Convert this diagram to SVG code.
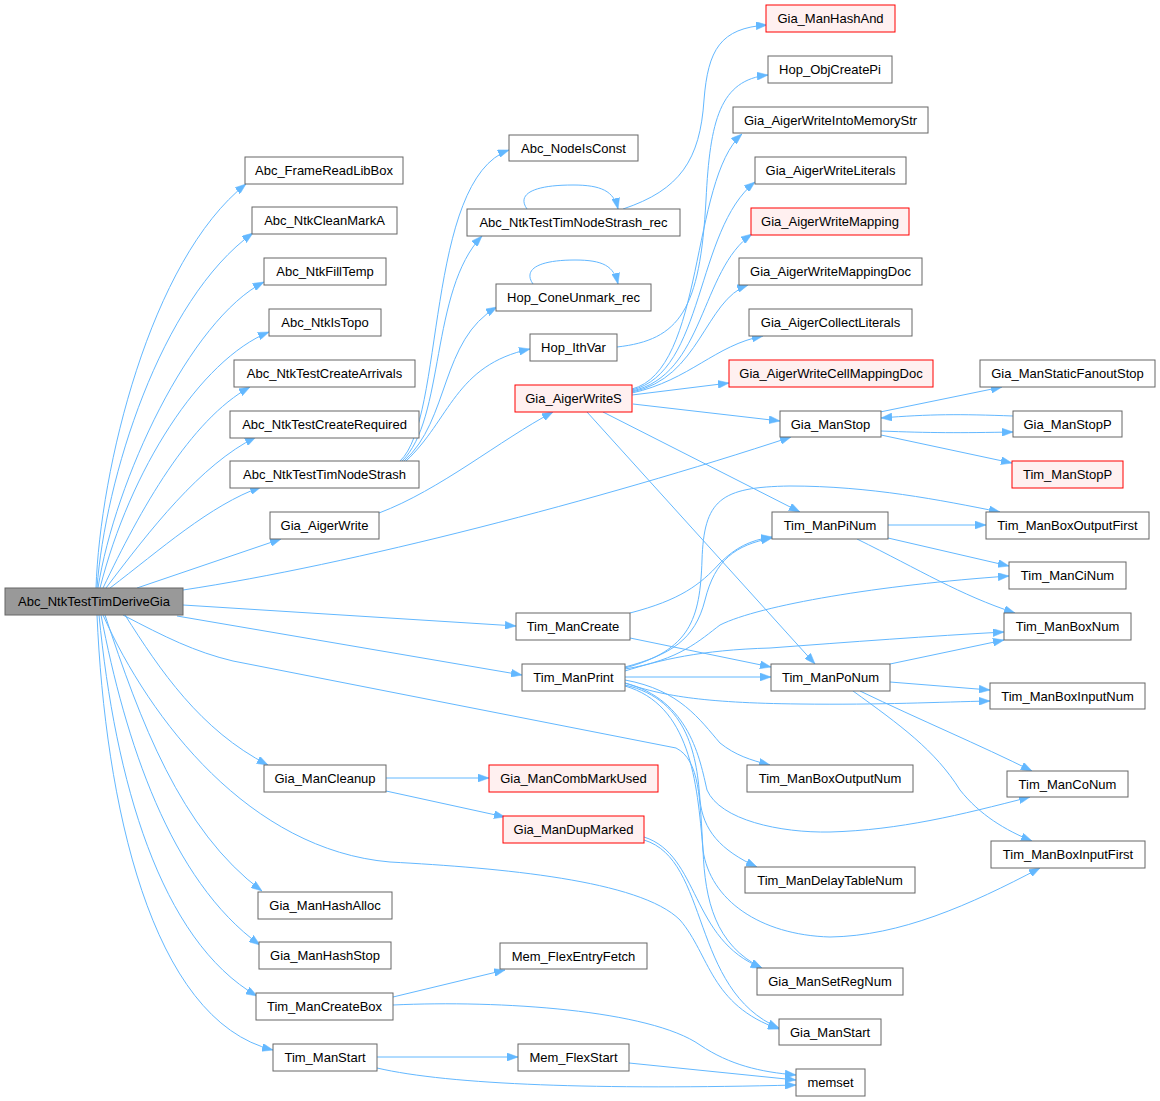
<svg xmlns="http://www.w3.org/2000/svg" width="1160" height="1101" viewBox="0 0 1160 1101">
<style>
.n rect{fill:#fff;stroke:#666;stroke-width:1}
.r rect{fill:#FFF0F0;stroke:#FF0000}
.root rect{fill:#999;stroke:#666}
text{font-family:"Liberation Sans",Arial,sans-serif;font-size:13px;fill:#000;text-anchor:middle}
.e path{fill:none;stroke:#63B8FF;stroke-width:1;marker-end:url(#ah)}
</style>
<defs>
<marker id="ah" markerUnits="userSpaceOnUse" markerWidth="11" markerHeight="8" refX="11" refY="4" orient="auto">
<path d="M0,0 L11,4 L0,8 z" fill="#63B8FF" stroke="#63B8FF" stroke-width="0.5"/>
</marker>
</defs>
<rect width="1160" height="1101" fill="#fff"/>
<g class="e">
<path d="M96,588 C100,470 150,260 246,184"/>
<path d="M97,588 C105,480 160,300 253,233"/>
<path d="M98,588 C115,480 190,320 264,282"/>
<path d="M100,588 C130,470 200,360 269,332"/>
<path d="M103,588 C140,510 190,420 250,387"/>
<path d="M106,588 C150,530 200,465 256,437"/>
<path d="M110,588 C160,550 210,505 261,487"/>
<path d="M137,588 L281,539"/>
<path d="M183,590 C350,565 600,500 791,437"/>
<path d="M183,605 L516,626"/>
<path d="M177,616 L522,675"/>
<path d="M123,615 C165,637 195,652 233,661 L676,748 C700,760 700,800 703,850 C705,900 715,945 762,968"/>
<path d="M125,615 C160,670 200,730 268,765"/>
<path d="M103,615 C150,720 250,850 390,862 C500,868 640,880 680,920 C710,955 710,1005 779,1029"/>
<path d="M105,615 C140,720 180,830 262,891"/>
<path d="M101,615 C125,740 170,880 260,945"/>
<path d="M99,615 C115,780 160,940 257,996"/>
<path d="M97,615 C105,800 150,1020 273,1050"/>
<path d="M400,461 C445,420 425,180 509,150"/>
<path d="M402,461 C445,420 430,290 482,236"/>
<path d="M404,461 C450,420 440,340 497,307"/>
<path d="M406,461 C450,420 455,365 530,349"/>
<path d="M527,209 C517,195 531,185 573,185 C601,185 614,191 618,209"/>
<path d="M533,284 C523,270 537,260 575,260 C603,260 614,266 618,284"/>
<path d="M623,209 C680,190 700,160 704,100 C708,50 720,28 767,25"/>
<path d="M617,347 C680,340 700,310 706,200 C710,120 720,80 768,75"/>
<path d="M379,513 C440,490 500,440 553,412"/>
<path d="M632,389 C705,370 690,180 742,134"/>
<path d="M632,390 C705,372 695,230 755,182"/>
<path d="M632,391 C705,375 700,270 752,234"/>
<path d="M632,392 C700,378 705,300 748,285"/>
<path d="M632,393 C690,380 715,345 763,336"/>
<path d="M632,395 L729,383"/>
<path d="M633,404 L780,421"/>
<path d="M603,412 L800,512"/>
<path d="M587,412 L815,664"/>
<path d="M880,412 L1002,387"/>
<path d="M881,431 C930,433 960,433 1013,432"/>
<path d="M1013,416 C960,414 930,414 881,418"/>
<path d="M881,435 L1012,463"/>
<path d="M630,613 C680,600 700,585 720,563 C735,548 750,540 772,537"/>
<path d="M630,638 L771,667"/>
<path d="M625,667 C670,655 695,640 705,600 C715,560 735,545 772,538"/>
<path d="M625,668 C690,650 700,620 702,560 C704,500 720,487 790,486 C870,486 940,500 1000,512"/>
<path d="M625,669 C680,660 700,640 720,625 C760,605 880,585 1009,576"/>
<path d="M625,671 C660,660 700,650 770,648 C850,642 930,636 1004,632"/>
<path d="M625,677 L771,677"/>
<path d="M625,683 C660,695 700,703 800,704 C880,705 940,702 990,701"/>
<path d="M625,680 C680,690 700,720 720,743 C735,755 750,760 770,765"/>
<path d="M625,683 C690,700 700,760 707,790 C720,820 780,833 830,832 C900,830 960,815 1030,797"/>
<path d="M625,685 C690,700 697,760 700,800 C703,830 720,850 757,867"/>
<path d="M625,686 C690,705 697,780 703,850 C710,900 760,935 830,937 C900,936 970,905 1040,868"/>
<path d="M888,525 L986,525"/>
<path d="M888,538 L1009,566"/>
<path d="M857,539 C920,570 960,595 1015,613"/>
<path d="M890,664 L1004,640"/>
<path d="M890,682 L990,690"/>
<path d="M860,691 C920,720 980,745 1032,771"/>
<path d="M853,691 C900,725 935,750 960,790 C980,815 1005,830 1032,841"/>
<path d="M386,778 L489,778"/>
<path d="M386,791 L505,817"/>
<path d="M644,837 C700,855 690,940 762,968"/>
<path d="M644,840 C710,860 690,990 779,1028"/>
<path d="M393,997 L505,970"/>
<path d="M393,1005 C500,1000 650,1010 700,1045 C730,1065 760,1072 796,1075"/>
<path d="M377,1057 L518,1057"/>
<path d="M377,1068 C450,1085 600,1090 796,1085"/>
<path d="M629,1063 L796,1080"/>
</g>
<g id="n_root" class="root"><rect x="5" y="588" width="178" height="27"/><text x="94" y="606">Abc_NtkTestTimDeriveGia</text></g>
<g id="n_FrameReadLibBox" class="n"><rect x="245" y="157" width="158" height="27"/><text x="324" y="175">Abc_FrameReadLibBox</text></g>
<g id="n_NtkCleanMarkA" class="n"><rect x="252" y="207" width="145" height="27"/><text x="324.5" y="225">Abc_NtkCleanMarkA</text></g>
<g id="n_NtkFillTemp" class="n"><rect x="264" y="258" width="122" height="27"/><text x="325" y="276">Abc_NtkFillTemp</text></g>
<g id="n_NtkIsTopo" class="n"><rect x="269" y="309" width="112" height="27"/><text x="325" y="327">Abc_NtkIsTopo</text></g>
<g id="n_CreateArrivals" class="n"><rect x="234" y="360" width="181" height="27"/><text x="324.5" y="378">Abc_NtkTestCreateArrivals</text></g>
<g id="n_CreateRequired" class="n"><rect x="230" y="411" width="189" height="27"/><text x="324.5" y="429">Abc_NtkTestCreateRequired</text></g>
<g id="n_TimNodeStrash" class="n"><rect x="230" y="461" width="189" height="27"/><text x="324.5" y="479">Abc_NtkTestTimNodeStrash</text></g>
<g id="n_AigerWrite" class="n"><rect x="270" y="512" width="109" height="27"/><text x="324.5" y="530">Gia_AigerWrite</text></g>
<g id="n_ManCleanup" class="n"><rect x="264" y="765" width="122" height="27"/><text x="325" y="783">Gia_ManCleanup</text></g>
<g id="n_HashAlloc" class="n"><rect x="258" y="892" width="134" height="27"/><text x="325" y="910">Gia_ManHashAlloc</text></g>
<g id="n_HashStop" class="n"><rect x="259" y="942" width="132" height="27"/><text x="325" y="960">Gia_ManHashStop</text></g>
<g id="n_CreateBox" class="n"><rect x="256" y="993" width="137" height="27"/><text x="324.5" y="1011">Tim_ManCreateBox</text></g>
<g id="n_TimManStart" class="n"><rect x="273" y="1044" width="104" height="27"/><text x="325" y="1062">Tim_ManStart</text></g>
<g id="n_NodeIsConst" class="n"><rect x="509" y="135" width="129" height="26"/><text x="573.5" y="153">Abc_NodeIsConst</text></g>
<g id="n_StrashRec" class="n"><rect x="467" y="209" width="213" height="27"/><text x="573.5" y="227">Abc_NtkTestTimNodeStrash_rec</text></g>
<g id="n_ConeUnmark" class="n"><rect x="496" y="284" width="155" height="27"/><text x="573.5" y="302">Hop_ConeUnmark_rec</text></g>
<g id="n_IthVar" class="n"><rect x="530" y="334" width="87" height="27"/><text x="573.5" y="352">Hop_IthVar</text></g>
<g id="n_AigerWriteS" class="n r"><rect x="515" y="385" width="117" height="27"/><text x="573.5" y="403">Gia_AigerWriteS</text></g>
<g id="n_TimManCreate" class="n"><rect x="516" y="613" width="114" height="27"/><text x="573" y="631">Tim_ManCreate</text></g>
<g id="n_TimManPrint" class="n"><rect x="522" y="664" width="103" height="27"/><text x="573.5" y="682">Tim_ManPrint</text></g>
<g id="n_CombMarkUsed" class="n r"><rect x="489" y="765" width="169" height="27"/><text x="573.5" y="783">Gia_ManCombMarkUsed</text></g>
<g id="n_DupMarked" class="n r"><rect x="503" y="816" width="141" height="27"/><text x="573.5" y="834">Gia_ManDupMarked</text></g>
<g id="n_FlexEntryFetch" class="n"><rect x="500" y="943" width="147" height="26"/><text x="573.5" y="961">Mem_FlexEntryFetch</text></g>
<g id="n_FlexStart" class="n"><rect x="518" y="1044" width="111" height="27"/><text x="573.5" y="1062">Mem_FlexStart</text></g>
<g id="n_HashAnd" class="n r"><rect x="766" y="5" width="129" height="27"/><text x="830.5" y="23">Gia_ManHashAnd</text></g>
<g id="n_ObjCreatePi" class="n"><rect x="768" y="56" width="124" height="27"/><text x="830" y="74">Hop_ObjCreatePi</text></g>
<g id="n_IntoMemoryStr" class="n"><rect x="733" y="107" width="195" height="26"/><text x="830.5" y="125">Gia_AigerWriteIntoMemoryStr</text></g>
<g id="n_WriteLiterals" class="n"><rect x="755" y="157" width="151" height="27"/><text x="830.5" y="175">Gia_AigerWriteLiterals</text></g>
<g id="n_WriteMapping" class="n r"><rect x="751" y="208" width="158" height="27"/><text x="830" y="226">Gia_AigerWriteMapping</text></g>
<g id="n_WriteMappingDoc" class="n"><rect x="739" y="258" width="183" height="27"/><text x="830.5" y="276">Gia_AigerWriteMappingDoc</text></g>
<g id="n_CollectLiterals" class="n"><rect x="749" y="309" width="163" height="27"/><text x="830.5" y="327">Gia_AigerCollectLiterals</text></g>
<g id="n_CellMappingDoc" class="n r"><rect x="729" y="360" width="204" height="27"/><text x="831" y="378">Gia_AigerWriteCellMappingDoc</text></g>
<g id="n_GiaManStop" class="n"><rect x="780" y="411" width="101" height="26"/><text x="830.5" y="429">Gia_ManStop</text></g>
<g id="n_PiNum" class="n"><rect x="772" y="512" width="116" height="27"/><text x="830" y="530">Tim_ManPiNum</text></g>
<g id="n_PoNum" class="n"><rect x="771" y="664" width="119" height="27"/><text x="830.5" y="682">Tim_ManPoNum</text></g>
<g id="n_BoxOutputNum" class="n"><rect x="747" y="765" width="166" height="27"/><text x="830" y="783">Tim_ManBoxOutputNum</text></g>
<g id="n_DelayTableNum" class="n"><rect x="745" y="867" width="170" height="26"/><text x="830" y="885">Tim_ManDelayTableNum</text></g>
<g id="n_SetRegNum" class="n"><rect x="757" y="968" width="146" height="27"/><text x="830" y="986">Gia_ManSetRegNum</text></g>
<g id="n_GiaManStart" class="n"><rect x="779" y="1019" width="102" height="26"/><text x="830" y="1037">Gia_ManStart</text></g>
<g id="n_memset" class="n"><rect x="796" y="1069" width="69" height="27"/><text x="830.5" y="1087">memset</text></g>
<g id="n_StaticFanoutStop" class="n"><rect x="980" y="360" width="175" height="27"/><text x="1067.5" y="378">Gia_ManStaticFanoutStop</text></g>
<g id="n_GiaManStopP" class="n"><rect x="1013" y="411" width="109" height="26"/><text x="1067.5" y="429">Gia_ManStopP</text></g>
<g id="n_TimManStopP" class="n r"><rect x="1012" y="461" width="111" height="27"/><text x="1067.5" y="479">Tim_ManStopP</text></g>
<g id="n_BoxOutputFirst" class="n"><rect x="986" y="512" width="163" height="27"/><text x="1067.5" y="530">Tim_ManBoxOutputFirst</text></g>
<g id="n_CiNum" class="n"><rect x="1009" y="562" width="117" height="27"/><text x="1067.5" y="580">Tim_ManCiNum</text></g>
<g id="n_BoxNum" class="n"><rect x="1004" y="613" width="127" height="27"/><text x="1067.5" y="631">Tim_ManBoxNum</text></g>
<g id="n_BoxInputNum" class="n"><rect x="990" y="683" width="155" height="26"/><text x="1067.5" y="701">Tim_ManBoxInputNum</text></g>
<g id="n_CoNum" class="n"><rect x="1007" y="771" width="121" height="26"/><text x="1067.5" y="789">Tim_ManCoNum</text></g>
<g id="n_BoxInputFirst" class="n"><rect x="991" y="841" width="154" height="27"/><text x="1068" y="859">Tim_ManBoxInputFirst</text></g>
</svg>
